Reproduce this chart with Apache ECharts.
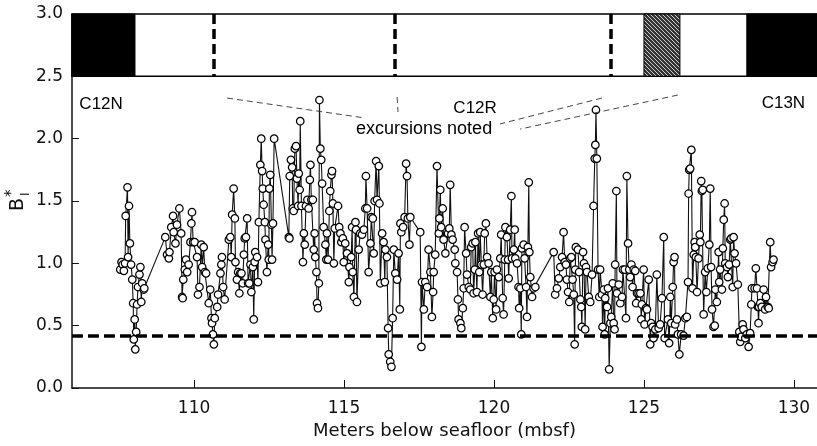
<!DOCTYPE html>
<html><head><meta charset="utf-8">
<script src="https://cdn.jsdelivr.net/npm/echarts@6/dist/echarts.min.js"></script>
<style>html,body{margin:0;padding:0;background:#fff}#c{width:817px;height:446px}</style>
</head><body><div id="c"></div>
<script>
// ---- data: depth (mbsf) and B*_I values ----
const depth = [
107.54,107.58,107.62,107.66,107.70,107.72,107.78,107.80,107.83,107.86,
107.90,107.94,107.97,107.99,108.02,108.04,108.07,108.10,108.13,108.18,
108.21,108.24,108.27,108.32,108.34,109.04,109.10,109.16,109.18,109.24,
109.30,109.32,109.38,109.43,109.51,109.57,109.60,109.62,109.64,109.69,
109.73,109.77,109.82,109.88,109.91,109.93,109.97,110.02,110.10,110.13,
110.18,110.24,110.27,110.32,110.36,110.40,110.49,110.54,110.58,110.60,
110.63,110.66,110.69,110.77,110.80,110.88,110.91,110.93,110.97,111.02,
111.16,111.21,111.24,111.27,111.32,111.36,111.38,111.43,111.47,111.51,
111.54,111.58,111.62,111.66,111.69,111.73,111.77,111.80,111.84,111.88,
111.91,111.96,111.99,112.02,112.04,112.10,112.13,112.16,112.21,112.24,
112.27,112.29,112.32,112.36,112.38,112.43,112.47,112.49,112.51,112.54,
112.58,112.60,112.63,112.67,113.16,113.18,113.19,113.23,113.27,113.29,
113.32,113.36,113.40,113.43,113.47,113.49,113.52,113.54,113.58,113.63,
113.66,113.69,113.73,113.78,113.82,113.86,113.88,113.91,113.96,113.99,
114.02,114.04,114.08,114.10,114.13,114.16,114.18,114.21,114.24,114.27,
114.32,114.38,114.41,114.43,114.47,114.51,114.54,114.58,114.60,114.63,
114.66,114.69,
114.80,114.84,114.88,114.91,114.96,114.99,115.04,115.10,115.16,115.18,
115.24,115.27,115.29,115.33,115.38,115.40,115.43,115.49,115.54,115.60,
115.66,115.71,115.73,115.77,115.82,115.88,115.91,115.96,115.99,116.02,
116.07,116.10,116.16,116.18,116.21,116.27,116.32,116.36,116.38,116.43,
116.47,116.49,116.54,116.58,116.62,116.66,116.71,116.77,116.82,116.86,
116.88,116.91,116.97,117.02,117.07,117.10,117.13,117.18,117.21,117.54,
117.58,117.60,117.66,117.71,117.77,117.82,117.88,117.93,117.97,117.99,
118.04,118.10,118.16,118.18,118.21,118.24,118.29,118.32,118.38,
118.47,118.51,118.54,118.58,118.62,118.69,118.71,118.77,118.80,118.82,
118.88,118.91,118.96,118.99,119.02,119.07,119.10,119.16,119.21,119.24,
119.29,119.32,119.36,119.38,119.43,119.47,119.51,119.54,119.58,119.62,
119.66,119.69,119.73,119.77,119.82,119.88,119.91,119.96,119.99,120.02,
120.07,120.10,120.16,120.21,120.24,120.29,120.32,120.36,120.38,120.43,
120.47,120.49,120.54,120.58,120.60,120.66,120.69,120.71,120.77,120.82,
120.84,120.88,120.91,120.93,120.99,121.02,121.07,121.10,121.13,121.16,
121.18,121.21,121.27,121.32,121.38,121.99,122.04,
122.10,122.16,122.21,122.27,122.32,122.36,122.40,122.43,122.47,122.51,
122.54,122.58,122.62,122.66,122.69,122.71,122.73,122.80,122.84,122.88,
122.91,122.93,122.97,123.00,123.04,123.07,123.10,123.16,123.21,123.27,
123.32,123.36,123.38,123.40,123.43,123.47,123.51,123.54,123.60,123.62,
123.66,123.69,123.71,123.77,123.80,123.84,123.88,123.91,123.96,123.99,
124.02,124.04,124.08,124.10,124.16,124.21,124.27,124.30,124.36,124.40,
124.43,124.47,124.51,124.54,124.58,124.62,124.66,124.71,124.74,124.77,
124.82,124.88,124.91,124.93,124.99,125.02,125.07,125.10,125.16,125.21,
125.24,125.29,125.32,125.38,125.43,125.49,125.54,125.60,125.66,125.69,
125.80,125.84,125.88,125.91,125.96,125.99,126.02,126.04,126.10,126.13,
126.18,126.24,126.32,126.38,126.43,126.47,126.49,126.51,126.54,126.58,
126.62,126.66,126.69,126.71,126.73,126.77,126.82,126.86,126.88,126.91,
126.93,126.96,126.99,127.04,127.08,127.13,127.18,127.21,127.24,127.27,
127.32,127.36,127.38,127.43,127.49,127.51,127.54,127.60,127.63,127.66,
127.69,127.71,127.77,127.80,127.84,127.88,127.91,127.96,127.99,128.02,
128.07,128.13,128.18,128.21,128.24,128.29,128.32,128.38,128.43,128.49,
128.54,128.58,128.60,128.69,128.73,128.77,128.80,128.82,128.84,128.88,
128.93,128.99,129.04,129.07,129.13,129.16,129.21,129.24,129.29,129.32
];
const bStar = [
0.95,1.01,0.99,0.94,1.00,1.38,1.61,1.05,1.46,1.16,
0.99,0.87,0.68,0.39,0.55,0.31,0.45,0.67,0.81,0.91,
0.97,0.69,0.84,0.79,0.80,1.21,1.07,1.04,1.09,1.29,
1.38,1.25,1.16,1.31,1.44,1.24,0.73,0.72,0.87,0.95,
1.03,0.93,0.99,1.17,1.32,1.41,1.17,1.17,1.05,0.75,
0.81,1.15,0.97,1.13,0.93,0.92,0.68,0.79,0.56,0.52,
0.43,0.35,0.56,0.65,0.75,0.92,0.99,1.05,0.81,0.71,
1.19,1.21,1.05,1.39,1.60,1.36,1.01,0.87,0.93,0.76,
0.92,0.92,0.84,1.07,1.20,1.21,1.36,0.84,0.84,0.99,
0.77,0.97,0.55,1.01,1.09,1.05,0.85,1.33,1.79,2.00,
1.74,1.60,1.47,1.33,1.19,0.93,1.15,1.03,1.60,1.71,
1.31,1.03,1.32,2.00,1.21,1.20,1.70,1.83,1.77,1.44,
1.42,1.92,1.94,1.68,1.46,1.72,1.59,2.14,1.46,1.01,
1.24,1.15,1.46,1.51,1.44,1.67,1.79,1.51,1.51,1.11,
1.24,1.05,0.93,0.68,0.64,0.84,2.31,1.92,1.83,1.64,
1.29,1.15,1.03,1.24,1.03,1.42,1.58,1.71,1.74,1.48,
1.00,1.28,
1.46,1.29,1.24,1.17,1.20,1.01,1.16,1.08,0.85,0.97,
1.05,1.29,0.93,0.73,1.33,1.27,0.69,1.11,1.24,1.23,
1.27,1.44,1.70,1.44,0.93,1.16,1.37,1.36,1.08,1.50,
1.82,1.51,1.78,1.48,0.84,1.24,1.17,0.85,1.11,1.05,
0.48,0.27,0.21,0.17,0.56,1.11,0.92,0.87,1.08,0.63,
1.32,1.25,1.29,1.37,1.80,1.70,1.36,1.15,1.37,1.25,
0.33,0.85,0.63,0.85,0.81,1.11,0.93,0.57,0.77,0.93,
1.07,1.78,1.24,1.36,1.59,1.29,1.44,1.19,1.08,
1.24,1.28,1.63,1.23,1.19,1.11,1.00,0.93,0.71,0.55,
0.52,0.48,0.64,0.80,1.29,1.08,0.91,0.81,0.79,1.13,
1.16,0.76,0.95,1.17,0.77,1.24,0.93,1.25,0.99,0.75,
0.99,1.24,1.32,1.05,1.00,0.73,0.93,0.56,0.71,0.93,
0.63,0.95,0.89,1.04,1.23,0.72,0.59,1.03,1.29,1.21,
1.03,0.88,1.27,1.54,1.04,1.11,1.27,1.04,1.00,0.81,
0.64,0.80,0.43,1.12,1.15,1.04,0.81,0.57,1.13,1.65,
1.09,0.89,0.73,0.80,0.81,1.09,0.75,
0.80,0.88,0.97,1.05,1.25,1.01,0.99,0.87,0.77,0.69,
1.04,1.05,0.87,0.75,0.35,0.95,1.13,1.11,0.93,0.71,
0.65,0.49,1.09,1.00,0.47,0.97,0.93,0.73,0.69,0.91,
1.46,1.84,1.95,2.23,1.84,0.95,0.73,0.95,0.75,0.49,
0.79,0.43,0.72,0.65,0.80,0.15,0.52,0.57,0.84,0.52,
0.47,0.99,1.58,0.76,0.83,0.68,0.73,0.95,0.95,0.56,
1.70,1.16,0.95,0.89,0.99,0.81,0.95,0.94,0.68,0.76,
0.76,0.76,0.55,0.67,0.95,0.51,0.64,0.63,0.87,0.35,
0.52,0.49,0.40,0.47,0.91,0.48,0.51,0.72,1.21,0.40,
0.55,0.36,0.73,0.52,0.81,1.01,1.05,0.51,0.55,0.43,
0.27,0.43,0.42,0.56,0.57,0.85,1.56,1.75,1.76,1.91,
0.80,1.07,1.17,1.13,1.05,0.77,1.04,1.23,1.17,1.66,
1.58,1.59,0.59,0.93,0.77,0.96,1.15,1.60,0.97,0.63,
0.49,0.50,0.79,0.69,1.09,0.85,0.95,0.79,1.12,1.35,
1.48,1.00,0.97,0.89,0.99,1.19,1.20,0.81,1.21,1.08,
1.00,0.83,0.45,0.37,0.41,0.51,0.47,0.40,0.43,0.33,
0.44,0.67,0.80,0.80,0.96,0.80,0.65,0.52,0.65,0.68,
0.65,0.79,0.63,0.73,0.65,0.64,1.17,0.97,1.01,1.03
];
const xTicks = [110, 115, 120, 125, 130];
const xRange = [105.93, 130.77];
const yRange = [0, 3.0];
const yStep = 0.5;
const thresholdLevel = 0.42;
// polarity band (top of panel)
const polarityBand = [2.5, 3.0];
const normalChrons = [[105.93, 108.03], [128.43, 130.77]];
const uncertainChrons = [[125.0, 126.2]];
const excursionDepths = [110.65, 116.7, 123.9];
const chronNames = ['C12N', 'C12R', 'C13N'];
const chronNameDepth = [106.9, 119.37, 129.65];
const chronNameLevel = [2.274, 2.242, 2.282];
const noteText = 'excursions noted';
const notePos = [117.67, 2.077];
const pointerFrom = [[111.1, 2.326], [116.77, 2.334], [123.6, 2.326], [126.13, 2.35]];
const pointerTo = [[115.7, 2.166], [116.8, 2.214], [120.2, 2.118], [120.87, 2.077]];
const xAxisName = 'Meters below seafloor (mbsf)';

// ---- build ----
const points = depth.map((d, i) => [d, bStar[i]]);
const blocks = [[xRange[0], xRange[1], 0]]
  .concat(normalChrons.map(c => [c[0], c[1], 1]))
  .concat(uncertainChrons.map(c => [c[0], c[1], 2]));

const pc = document.createElement('canvas');
pc.width = 4; pc.height = 4;
const g = pc.getContext('2d');
g.fillStyle = '#333'; g.fillRect(0, 0, 4, 4);
g.strokeStyle = '#cfcfcf'; g.lineWidth = 1;
g.beginPath(); g.moveTo(-1, -1); g.lineTo(5, 5); g.moveTo(-1, 3); g.lineTo(1, 5); g.moveTo(3, -1); g.lineTo(5, 1); g.stroke();
const hatch = { image: pc, repeat: 'repeat' };

const FONT_AX = 'DejaVu Sans';
const FONT_TX = 'Liberation Sans';

const chart = echarts.init(document.getElementById('c'), null, { renderer: 'canvas' });
chart.setOption({
  animation: false,
  backgroundColor: '#fff',
  grid: { left: 72, right: 0, top: 14, bottom: 58, containLabel: false },
  xAxis: {
    type: 'value', min: xRange[0], max: xRange[1],
    axisLine: { show: true, onZero: false, lineStyle: { color: '#111', width: 1.5 } },
    axisTick: { show: true, inside: true, length: 8, customValues: xTicks, lineStyle: { color: '#111', width: 1 } },
    axisLabel: { customValues: xTicks, fontSize: 17, fontFamily: FONT_AX, color: '#111', margin: 12 },
    splitLine: { show: false },
    name: xAxisName, nameLocation: 'middle', nameGap: 28,
    nameTextStyle: { fontSize: 18, fontFamily: FONT_AX, color: '#111' }
  },
  yAxis: {
    type: 'value', min: yRange[0], max: yRange[1], interval: yStep,
    axisLine: { show: true, lineStyle: { color: '#111', width: 1.5 } },
    axisTick: { show: true, inside: true, length: 7, lineStyle: { color: '#111', width: 1 } },
    axisLabel: { fontSize: 17, fontFamily: FONT_AX, color: '#111', margin: 9, formatter: v => v.toFixed(1) },
    splitLine: { show: false }
  },
  series: [
    {
      type: 'custom', silent: true, z: 1,
      data: blocks,
      encode: { x: [0, 1] },
      renderItem: function (params, api) {
        const s = api.value(0), e = api.value(1), k = api.value(2);
        const p1 = api.coord([s, polarityBand[1]]);
        const p2 = api.coord([e, polarityBand[0]]);
        return {
          type: 'rect',
          shape: { x: p1[0], y: p1[1], width: p2[0] - p1[0], height: p2[1] - p1[1] },
          style: { fill: k === 0 ? '#fff' : (k === 1 ? '#000' : hatch), stroke: '#000', lineWidth: k === 0 ? 1.5 : 1 }
        };
      },
      markLine: {
        silent: true, symbol: 'none', label: { show: false },
        data: excursionDepths.map(d => [
          { coord: [d, polarityBand[1]], lineStyle: { type: [10, 5], width: 3.5, color: '#000' } },
          { coord: [d, polarityBand[0]] }
        ]).concat(pointerFrom.map((p, i) => [
          { coord: p, lineStyle: { type: [6, 4], width: 0.9, color: '#333' } },
          { coord: pointerTo[i] }
        ]))
      }
    },
    {
      type: 'line', z: 3, silent: true,
      data: points,
      symbol: 'circle', symbolSize: 7.5, showSymbol: true,
      lineStyle: { color: '#111', width: 1.1 },
      itemStyle: { color: '#fff', borderColor: '#000', borderWidth: 1.25 },
      markLine: {
        silent: true, symbol: 'none', label: { show: false },
        lineStyle: { type: [11, 5], width: 3.5, color: '#000' },
        data: [{ yAxis: thresholdLevel }]
      }
    }
  ]
});

const graphics = [];
chronNames.forEach((n, i) => {
  const p = chart.convertToPixel({ gridIndex: 0 }, [chronNameDepth[i], chronNameLevel[i]]);
  graphics.push({ type: 'text', x: p[0], y: p[1], z: 10,
    style: { text: n, fontSize: 17, fontFamily: FONT_TX, fill: '#000', align: 'center', verticalAlign: 'middle' } });
});
const np = chart.convertToPixel({ gridIndex: 0 }, notePos);
graphics.push({ type: 'text', x: np[0], y: np[1], z: 10,
  style: { text: noteText, fontSize: 18, fontFamily: FONT_TX, fill: '#000', align: 'center', verticalAlign: 'middle' } });
// y-axis title B*_I (rotated)
graphics.push({
  type: 'group', x: 18, y: 197, rotation: Math.PI / 2, z: 10,
  children: [
    { type: 'text', x: -1, y: 0, style: { text: 'B', fontSize: 19, fontFamily: FONT_AX, fill: '#111', align: 'right', verticalAlign: 'middle' } },
    { type: 'text', x: 0, y: -6, style: { text: '*', fontSize: 15, fontFamily: FONT_AX, fill: '#111', align: 'left', verticalAlign: 'middle' } },
    { type: 'text', x: 1, y: 8, style: { text: 'I', fontSize: 12, fontFamily: FONT_AX, fill: '#111', align: 'left', verticalAlign: 'middle' } }
  ]
});
chart.setOption({ graphic: graphics });
</script>
</body></html>
